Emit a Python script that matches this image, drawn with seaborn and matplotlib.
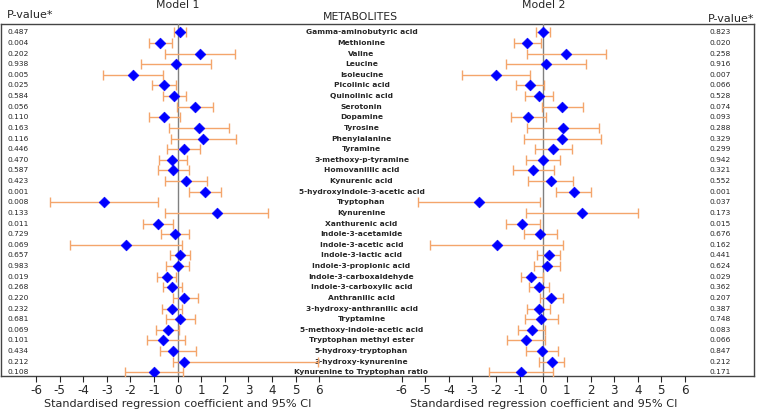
import numpy as np
import pandas as pd
import seaborn as sns
import matplotlib.pyplot as plt

# Data
metabolites = [
    "Gamma-aminobutyric acid", "Methionine", "Valine", "Leucine", "Isoleucine",
    "Picolinic acid", "Quinolinic acid", "Serotonin", "Dopamine", "Tyrosine",
    "Phenylalanine", "Tyramine", "3-methoxy-p-tyramine", "Homovanillic acid",
    "Kynurenic acid", "5-hydroxyindole-3-acetic acid", "Tryptophan", "Kynurenine",
    "Xanthurenic acid", "Indole-3-acetamide", "Indole-3-acetic acid",
    "Indole-3-lactic acid", "Indole-3-propionic acid", "Indole-3-carboxaldehyde",
    "Indole-3-carboxylic acid", "Anthranilic acid", "3-hydroxy-anthranilic acid",
    "Tryptamine", "5-methoxy-indole-acetic acid", "Tryptophan methyl ester",
    "5-hydroxy-tryptophan", "3-hydroxy-kynurenine", "Kynurenine to Tryptophan ratio",
]

m1_beta = [0.10, -0.75, 0.95, -0.06, -1.89, -0.59, -0.17, 0.75, -0.56, 0.89,
           1.09, 0.25, -0.23, -0.20, 0.35, 1.16, -3.11, 1.65, -0.85, -0.11,
           -2.19, 0.10, 0.00, -0.47, -0.23, 0.25, -0.24, 0.11, -0.42, -0.61,
           -0.21, 0.28, -1.02]
m1_lo = [-0.17, -1.23, -0.52, -1.55, -3.18, -1.07, -0.61, -0.01, -1.23, -0.37,
         -0.28, -0.44, -0.81, -0.85, -0.52, 0.47, -5.40, -0.52, -1.48, -0.69,
         -4.55, -0.34, -0.48, -0.88, -0.62, -0.21, -0.66, -0.48, -0.92, -1.31,
         -0.73, -0.20, -2.24]
m1_hi = [0.34, -0.24, 2.44, 1.43, -0.61, -0.07, 0.34, 1.48, 0.11, 2.16,
         2.47, 0.96, 0.38, 0.48, 1.24, 1.84, -0.82, 3.84, -0.20, 0.49,
         0.18, 0.54, 0.48, -0.08, 0.18, 0.85, 0.18, 0.72, 0.06, 0.32,
         0.76, 5.96, 0.24]
m1_p = ["0.487", "0.004", "0.202", "0.938", "0.005", "0.025", "0.584", "0.056",
        "0.110", "0.163", "0.116", "0.446", "0.470", "0.587", "0.423", "0.001",
        "0.008", "0.133", "0.011", "0.729", "0.069", "0.657", "0.983", "0.019",
        "0.268", "0.220", "0.232", "0.681", "0.069", "0.101", "0.434", "0.212",
        "0.108"]

m2_beta = [-0.03, -0.68, 0.97, 0.11, -2.02, -0.56, -0.18, 0.81, -0.64, 0.85,
           0.81, 0.42, -0.01, -0.42, 0.31, 1.29, -2.72, 1.64, -0.89, -0.13,
           -1.98, 0.23, 0.17, -0.51, -0.20, 0.32, -0.20, -0.11, -0.48, -0.73,
           -0.06, 0.35, -0.93]
m2_lo = [-0.32, -1.26, -0.71, -1.60, -3.46, -1.17, -0.76, -0.07, -1.38, -0.69,
         -0.81, -0.37, -0.75, -1.27, -0.66, 0.52, -5.30, -0.72, -1.60, -0.83,
         -4.79, -0.28, -0.41, -0.96, -0.62, -0.16, -0.71, -0.79, -1.09, -1.53,
         -0.72, -0.17, -2.30]
m2_hi = [0.28, -0.10, 2.64, 1.82, -0.56, 0.04, 0.42, 1.68, 0.13, 2.36,
         2.46, 1.23, 0.72, 0.44, 1.27, 2.02, -0.14, 4.00, -0.16, 0.56,
         0.83, 0.72, 0.72, -0.03, 0.25, 0.82, 0.30, 0.62, 0.08, 0.08,
         0.62, 0.88, 0.42]
m2_p = ["0.823", "0.020", "0.258", "0.916", "0.007", "0.066", "0.528", "0.074",
        "0.093", "0.288", "0.329", "0.299", "0.942", "0.321", "0.552", "0.001",
        "0.037", "0.173", "0.015", "0.676", "0.162", "0.441", "0.624", "0.029",
        "0.362", "0.207", "0.387", "0.748", "0.083", "0.066", "0.847", "0.212",
        "0.171"]

xticks = [-6, -5, -4, -3, -2, -1, 0, 1, 2, 3, 4, 5, 6]

sns.set_style("white")
plt.rcParams['font.family'] = ['DejaVu Sans']
plt.rcParams['axes.unicode_minus'] = False

W, H = 757, 415
fig = plt.figure(figsize=(W / 100, H / 100), dpi=100)


def px_axes(x0, y0, x1, y1):
    # axes placed by pixel box (top-left origin)
    return fig.add_axes([x0 / W, 1 - y1 / H, (x1 - x0) / W, (y1 - y0) / H])


rows = np.arange(len(metabolites))
ylim = (32.35, -0.78)
unit = 23.6
span = 6.7

# outer frame + text columns
frame = px_axes(1, 24, 754, 376)
frame.set_xlim(0, 753)
frame.set_ylim(*ylim)
frame.set_xticks([])
frame.set_yticks([])
for s in frame.spines.values():
    s.set_color("#444444")
    s.set_linewidth(1)

for i, name in enumerate(metabolites):
    frame.text(360.5, i, name, ha="center", va="center", fontsize=5.4, fontweight="bold")
    frame.text(7, i, m1_p[i], ha="left", va="center", fontsize=5.4)
    frame.text(708, i, m2_p[i], ha="left", va="center", fontsize=5.4)

fig.text(7 / W, 1 - 15.5 / H, "P-value*", ha="left", va="center", fontsize=8)
fig.text(754 / W, 1 - 19 / H, "P-value*", ha="right", va="center", fontsize=8)
fig.text(360 / W, 1 - 17.5 / H, "METABOLITES", ha="center", va="center", fontsize=7.8)


def forest(zero_px, beta, lo, hi, title):
    ax = px_axes(zero_px - span * unit, 24, zero_px + span * unit, 376)
    ax.patch.set_alpha(0)
    beta = np.array(beta)
    xerr = [beta - np.array(lo), np.array(hi) - beta]
    ax.axvline(0, color="grey", lw=1, zorder=1)
    ax.errorbar(beta, rows, xerr=xerr, fmt="none", ecolor="#f4a56b",
                elinewidth=1, capsize=3.5, capthick=1, zorder=2)
    df = pd.DataFrame({"beta": beta, "row": rows})
    sns.scatterplot(data=df, x="beta", y="row", marker="D", color="blue",
                    edgecolor="blue", s=30, zorder=3, ax=ax)
    ax.set_xlim(-span, span)
    ax.set_ylim(*ylim)
    ax.set_yticks([])
    ax.set_xticks(xticks)
    ax.tick_params(axis="x", direction="out", length=4, width=0.8, pad=2,
                   labelsize=8.6, bottom=True)
    for s in ax.spines.values():
        s.set_visible(False)
    ax.set_ylabel("")
    ax.set_xlabel("Standardised regression coefficient and 95% CI", fontsize=8.1, labelpad=1.5)
    fig.text(zero_px / W, 1 - 5.5 / H, title, ha="center", va="center", fontsize=7.8)
    return ax


forest(177.7, m1_beta, m1_lo, m1_hi, "Model 1")
forest(543.3, m2_beta, m2_lo, m2_hi, "Model 2")

fig.savefig("out.png", dpi=100)
